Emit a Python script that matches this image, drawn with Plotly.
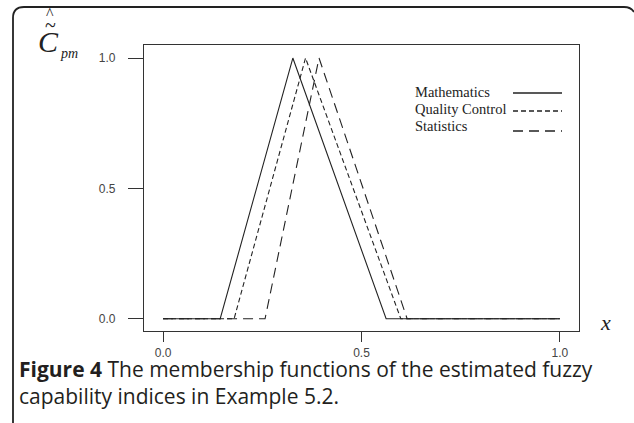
import plotly.graph_objects as go

# ---- data ----
series_names = ["Mathematics", "Quality Control", "Statistics"]
math_x = [0.0, 0.144, 0.327, 0.562, 1.0]
math_y = [0.0, 0.0, 1.0, 0.0, 0.0]
qc_x = [0.0, 0.179, 0.359, 0.599, 1.0]
qc_y = [0.0, 0.0, 1.0, 0.0, 0.0]
stat_x = [0.0, 0.257, 0.393, 0.615, 1.0]
stat_y = [0.0, 0.0, 1.0, 0.0, 0.0]
x_ticks = [0.0, 0.5, 1.0]
x_tick_labels = ["0.0", "0.5", "1.0"]
y_ticks = [0.0, 0.5, 1.0]
y_tick_labels = ["0.0", "0.5", "1.0"]

W, H = 634, 423
L, R, T, B = 144, 579, 45, 331
pw, ph = R - L, B - T


def px(x):
    return (x - L) / pw


def py(y):
    return (B - y) / ph


line_col = "#222222"
dashes = ["solid", "5px,3px", "10px,6px"]

fig = go.Figure()
for name, xs, ys, d in zip(series_names, [math_x, qc_x, stat_x],
                           [math_y, qc_y, stat_y], dashes):
    fig.add_trace(go.Scatter(x=xs, y=ys, mode="lines", name=name,
                             line=dict(color=line_col, width=1.1, dash=d),
                             showlegend=False, hoverinfo="skip"))

axis_common = dict(showgrid=False, zeroline=False, showline=True, mirror=True,
                   linecolor="#333333", linewidth=1.3, ticks="outside",
                   tickcolor="#333333", tickwidth=1.3,
                   tickfont=dict(family="Liberation Sans, Arial", size=12, color="#444444"))

fig.update_layout(
    width=W, height=H,
    margin=dict(l=L, r=W - R, t=T, b=H - B),
    paper_bgcolor="white", plot_bgcolor="white",
    xaxis=dict(range=[-0.048, 1.048], tickvals=x_ticks, ticktext=x_tick_labels,
               ticklen=10, ticklabelstandoff=0, **axis_common),
    yaxis=dict(range=[-0.047, 1.05], tickvals=y_ticks, ticktext=y_tick_labels,
               ticklen=15, ticklabelstandoff=10, **axis_common),
)

# legend (text at left, line sample at right)
leg_text_y = [92, 109, 126]
leg_line_y = [93, 111, 131]
for name, ty, ly, d in zip(series_names, leg_text_y, leg_line_y, dashes):
    fig.add_annotation(xref="paper", yref="paper", x=px(413), y=py(ty),
                       xanchor="left", yanchor="middle", showarrow=False,
                       text=name, font=dict(family="Liberation Serif, Times New Roman",
                                            size=14.5, color="#222222"))
    fig.add_shape(type="line", xref="paper", yref="paper",
                  x0=px(513), x1=px(562), y0=py(ly), y1=py(ly),
                  line=dict(color=line_col, width=1.3, dash=d))

# y-axis label: C with tilde and hat, subscript pm
serif = "Liberation Serif, Times New Roman"
fig.add_annotation(xref="paper", yref="paper", x=px(48), y=py(41), showarrow=False,
                   text="<i>C</i>", font=dict(family=serif, size=30, color="#222222"),
                   xanchor="center", yanchor="middle")
fig.add_annotation(xref="paper", yref="paper", x=px(50), y=py(25), showarrow=False,
                   text="~", font=dict(family=serif, size=20, color="#222222"),
                   xanchor="center", yanchor="middle")
fig.add_annotation(xref="paper", yref="paper", x=px(50), y=py(13), showarrow=False,
                   text="^", font=dict(family=serif, size=16, color="#222222"),
                   xanchor="center", yanchor="middle")
fig.add_annotation(xref="paper", yref="paper", x=px(58), y=py(53), showarrow=False,
                   text="<i>pm</i>", font=dict(family=serif, size=14, color="#222222"),
                   xanchor="left", yanchor="middle")

# x-axis label
fig.add_annotation(xref="paper", yref="paper", x=px(605), y=py(322), showarrow=False,
                   text="<i>x</i>", font=dict(family=serif, size=22, color="#222222"),
                   xanchor="center", yanchor="middle")

# caption
cap_font = "Open Sans, Noto Sans, Liberation Sans"
fig.add_annotation(xref="paper", yref="paper", x=px(17), y=py(369), showarrow=False,
                   xanchor="left", yanchor="middle",
                   text="<b>Figure 4</b> The membership functions of the estimated fuzzy",
                   font=dict(family=cap_font, size=21, color="#231f20"))
fig.add_annotation(xref="paper", yref="paper", x=px(17), y=py(396), showarrow=False,
                   xanchor="left", yanchor="middle",
                   text="capability indices in Example 5.2.",
                   font=dict(family=cap_font, size=21, color="#231f20"))

# frame with rounded top corners
path = (f"M {px(13)},{py(423)} L {px(13)},{py(18)} "
        f"Q {px(13)},{py(7)} {px(24)},{py(7)} L {px(624)},{py(7)} "
        f"Q {px(631)},{py(7)} {px(634)},{py(12)}")
fig.add_shape(type="path", xref="paper", yref="paper", path=path,
              line=dict(color="#222222", width=1.8))

fig.write_html("out.html", config={"displayModeBar": False},
               post_script="document.body.style.margin='0';document.body.style.overflow='hidden';")
